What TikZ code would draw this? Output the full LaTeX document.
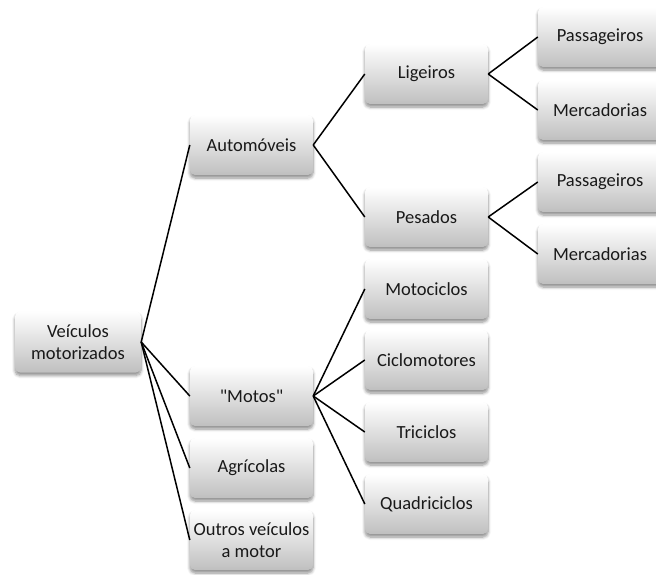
\documentclass[tikz,border=0pt]{standalone}
\usepackage{fontspec}
\setmainfont{Carlito}
\newfontfamily\plainq{Carlito}
\usetikzlibrary{shadows.blur}
\tikzset{
  box/.style={rounded corners=5pt, top color=white, bottom color=black!25,
    draw=none, minimum width=123pt, minimum height=60pt, align=center,
    text=black!90, font=\fontsize{18.5}{22}\selectfont, inner sep=2pt,
    blur shadow={shadow blur steps=6, shadow xshift=0pt, shadow yshift=-3pt, shadow blur radius=3pt, shadow opacity=45}},
  link/.style={line width=1.5pt, black}
}
\begin{document}
\begin{tikzpicture}[x=1pt,y=-1pt]
\useasboundingbox (0,0) rectangle (656,574);
\node[box, minimum width=126pt, minimum height=61pt] (root) at (78,342) {Veículos\\motorizados};
\node[box] (auto) at (251.5,145) {Automóveis};
\node[box] (motos) at (251.5,396) {{\plainq"}Motos{\plainq"}};
\node[box] (agri) at (251.5,468) {Agrícolas};
\node[box] (outros) at (251.5,540) {Outros veículos\\a motor};
\node[box] (lig) at (426.5,74) {Ligeiros};
\node[box] (pes) at (426.5,217) {Pesados};
\node[box] (moto) at (426.5,289) {Motociclos};
\node[box] (ciclo) at (426.5,360) {Ciclomotores};
\node[box] (tri) at (426.5,432) {Triciclos};
\node[box] (quad) at (426.5,504) {Quadriciclos};
\node[box, minimum width=124pt] (p1) at (600,37) {Passageiros};
\node[box, minimum width=124pt] (m1) at (600,110) {Mercadorias};
\node[box, minimum width=124pt] (p2) at (600,182) {Passageiros};
\node[box, minimum width=124pt] (m2) at (600,254) {Mercadorias};
\foreach \c in {auto,motos,agri,outros} \draw[link] (root.east) -- (\c.west);
\foreach \c in {lig,pes} \draw[link] (auto.east) -- (\c.west);
\foreach \c in {moto,ciclo,tri,quad} \draw[link] (motos.east) -- (\c.west);
\foreach \c in {p1,m1} \draw[link] (lig.east) -- (\c.west);
\foreach \c in {p2,m2} \draw[link] (pes.east) -- (\c.west);
\end{tikzpicture}
\end{document}
